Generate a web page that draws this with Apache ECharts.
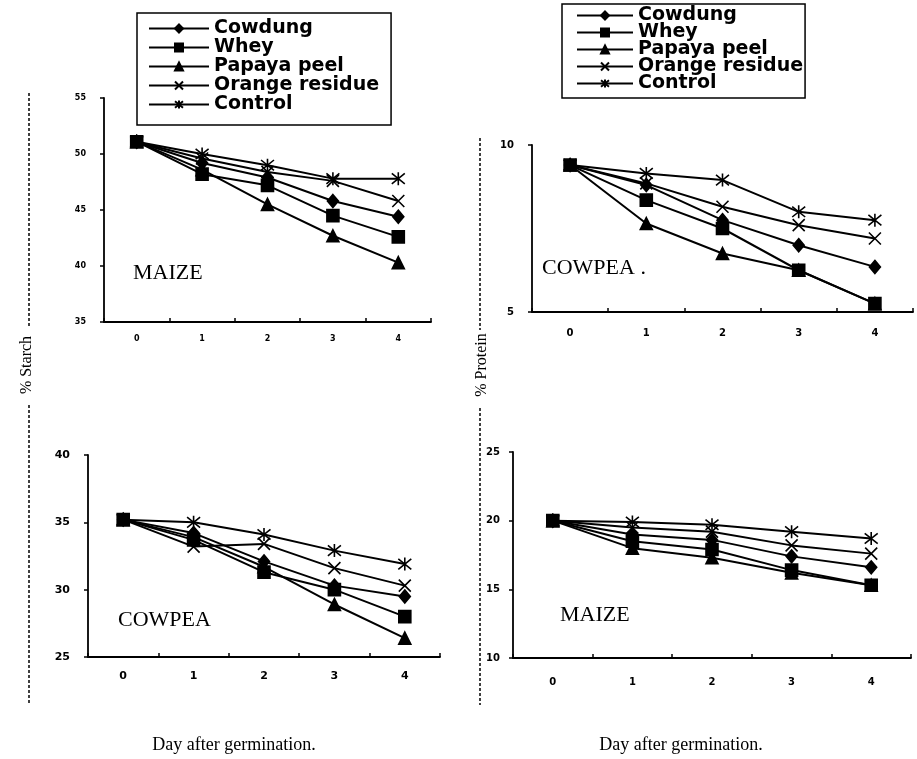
<!DOCTYPE html>
<html>
<head>
<meta charset="utf-8">
<script src="https://cdn.jsdelivr.net/npm/echarts@6/dist/echarts.min.js"></script>
<style>
html,body{margin:0;padding:0;background:#fff;}
#chart{width:917px;height:759px;}
</style>
</head>
<body>
<div id="chart"></div>
<script>
// ---------- data ----------
const days = ['0', '1', '2', '3', '4'];
const seriesNames = ['Cowdung', 'Whey', 'Papaya peel', 'Orange residue', 'Control'];

// % Starch - Maize (top left)
const maizeStarchCowdung = [51.1, 49.2, 47.9, 45.8, 44.4];
const maizeStarchWhey    = [51.1, 48.2, 47.2, 44.5, 42.6];
const maizeStarchPapaya  = [51.1, 48.6, 45.5, 42.7, 40.3];
const maizeStarchOrange  = [51.1, 49.6, 48.4, 47.6, 45.8];
const maizeStarchControl = [51.1, 50.0, 49.0, 47.8, 47.8];

// % Protein - Cowpea (top right)
const cowpeaProteinCowdung = [9.4, 8.8, 7.75, 7.0, 6.35];
const cowpeaProteinWhey    = [9.4, 8.35, 7.5, 6.25, 5.25];
const cowpeaProteinPapaya  = [9.4, 7.65, 6.75, 6.25, 5.25];
const cowpeaProteinOrange  = [9.4, 8.85, 8.15, 7.6, 7.2];
const cowpeaProteinControl = [9.4, 9.15, 8.95, 8.0, 7.75];

// % Starch - Cowpea (bottom left)
const cowpeaStarchCowdung = [35.2, 34.2, 32.1, 30.3, 29.5];
const cowpeaStarchWhey    = [35.2, 33.7, 31.3, 30.0, 28.0];
const cowpeaStarchPapaya  = [35.2, 33.9, 31.7, 28.9, 26.4];
const cowpeaStarchOrange  = [35.2, 33.2, 33.4, 31.6, 30.3];
const cowpeaStarchControl = [35.2, 35.0, 34.1, 32.9, 31.9];

// % Protein - Maize (bottom right)
const maizeProteinCowdung = [20.0, 19.0, 18.6, 17.4, 16.6];
const maizeProteinWhey    = [20.0, 18.5, 17.9, 16.4, 15.3];
const maizeProteinPapaya  = [20.0, 18.0, 17.3, 16.2, 15.3];
const maizeProteinOrange  = [20.0, 19.5, 19.2, 18.2, 17.6];
const maizeProteinControl = [20.0, 19.9, 19.7, 19.2, 18.7];

// axis ranges [min, max, interval]
const maizeStarchRange   = [35, 55, 5];
const cowpeaProteinRange = [5, 10, 5];
const cowpeaStarchRange  = [25, 40, 5];
const maizeProteinRange  = [10, 25, 5];

// ---------- styling ----------
const BLACK = '#000';
const SANS = 'DejaVu Sans';

const symbols = {
  'Cowdung': {symbol: 'diamond', size: [11, 13]},
  'Whey': {symbol: 'rect', size: 12},
  'Papaya peel': {symbol: 'triangle', size: 12},
  'Orange residue': {symbol: 'path://M0,0L10,10M10,0L0,10', size: 12},
  'Control': {symbol: 'path://M1,1L9,9M9,1L1,9M5,0L5,10', size: 13}
};

function makeSeries(gridIndex, arrays) {
  return seriesNames.map((name, i) => ({
    name: name,
    type: 'line',
    xAxisIndex: gridIndex,
    yAxisIndex: gridIndex,
    data: arrays[i],
    symbol: symbols[name].symbol,
    symbolSize: symbols[name].size,
    showSymbol: true,
    animation: false,
    z: 5 - i,
    lineStyle: {color: BLACK, width: 2},
    itemStyle: {color: BLACK, borderColor: BLACK, borderWidth: 1.6}
  }));
}

const grids = [
  {left: 104, top: 98, width: 327, height: 224},
  {left: 532, top: 145, width: 381, height: 167},
  {left: 88, top: 455, width: 352, height: 202},
  {left: 513, top: 452, width: 398, height: 206}
];
const labelFont = [8, 10, 11, 10];
const yMargin = [18, 18, 18, 13];
const xMargin = [13, 16, 14, 19];
const ranges = [maizeStarchRange, cowpeaProteinRange, cowpeaStarchRange, maizeProteinRange];

const xAxes = grids.map((g, i) => ({
  type: 'category',
  gridIndex: i,
  data: days,
  boundaryGap: true,
  axisLine: {show: true, lineStyle: {color: BLACK, width: 1.8}},
  axisTick: {show: true, inside: true, length: 4, lineStyle: {color: BLACK, width: 1.5}},
  axisLabel: {color: BLACK, fontFamily: SANS, fontWeight: 'bold', fontSize: labelFont[i], margin: xMargin[i]},
  splitLine: {show: false}
}));

const yAxes = grids.map((g, i) => ({
  type: 'value',
  gridIndex: i,
  min: ranges[i][0],
  max: ranges[i][1],
  interval: ranges[i][2],
  axisLine: {show: true, lineStyle: {color: BLACK, width: 1.8}},
  axisTick: {show: true, length: 4, lineStyle: {color: BLACK, width: 1.5}},
  axisLabel: {color: BLACK, fontFamily: SANS, fontWeight: 'bold', fontSize: labelFont[i], margin: yMargin[i]},
  splitLine: {show: false}
}));

const legendCommon = {
  orient: 'vertical',
  data: seriesNames,
  borderColor: BLACK,
  borderWidth: 1.5,
  borderRadius: 0,
  selectedMode: false,
  backgroundColor: '#fff',
  lineStyle: {width: 2, color: BLACK},
  itemHeight: 10
};

const option = {
  backgroundColor: '#fff',
  animation: false,
  grid: grids,
  xAxis: xAxes,
  yAxis: yAxes,
  legend: [
    Object.assign({}, legendCommon, {
      left: 137, top: 13,
      padding: [6, 12, 11, 11],
      itemWidth: 60, itemGap: 0,
      textStyle: {color: BLACK, fontFamily: SANS, fontWeight: 'bold', fontSize: 19, lineHeight: 18.75}
    }),
    Object.assign({}, legendCommon, {
      left: 562, top: 4,
      padding: [2, 2, 5, 14],
      itemWidth: 56, itemGap: -2,
      textStyle: {color: BLACK, fontFamily: SANS, fontWeight: 'bold', fontSize: 19, lineHeight: 17}
    })
  ],
  graphic: [
    {type: 'text', x: 133, y: 273, style: {text: 'MAIZE', font: '22px "Liberation Serif"', fill: BLACK, verticalAlign: 'middle'}},
    {type: 'text', x: 542, y: 268, style: {text: 'COWPEA .', font: '22px "Liberation Serif"', fill: BLACK, verticalAlign: 'middle'}},
    {type: 'text', x: 118, y: 620, style: {text: 'COWPEA', font: '22px "Liberation Serif"', fill: BLACK, verticalAlign: 'middle'}},
    {type: 'text', x: 560, y: 615, style: {text: 'MAIZE', font: '22px "Liberation Serif"', fill: BLACK, verticalAlign: 'middle'}},
    {type: 'text', x: 27, y: 365, rotation: Math.PI / 2, style: {text: '% Starch', font: '16px "Liberation Serif"', fill: BLACK, align: 'center', verticalAlign: 'middle'}},
    {type: 'text', x: 482, y: 365, rotation: Math.PI / 2, style: {text: '% Protein', font: '16px "Liberation Serif"', fill: BLACK, align: 'center', verticalAlign: 'middle'}},
    {type: 'line', shape: {x1: 29, y1: 93, x2: 29, y2: 328}, style: {stroke: BLACK, lineWidth: 1.5, lineDash: [3, 2]}},
    {type: 'line', shape: {x1: 29, y1: 405, x2: 29, y2: 705}, style: {stroke: BLACK, lineWidth: 1.5, lineDash: [3, 2]}},
    {type: 'line', shape: {x1: 480, y1: 138, x2: 480, y2: 330}, style: {stroke: BLACK, lineWidth: 1.5, lineDash: [3, 2]}},
    {type: 'line', shape: {x1: 480, y1: 408, x2: 480, y2: 705}, style: {stroke: BLACK, lineWidth: 1.5, lineDash: [3, 2]}},
    {type: 'text', x: 234, y: 745, style: {text: 'Day after germination.', font: '18px "Liberation Serif"', fill: BLACK, align: 'center', verticalAlign: 'middle'}},
    {type: 'text', x: 681, y: 745, style: {text: 'Day after germination.', font: '18px "Liberation Serif"', fill: BLACK, align: 'center', verticalAlign: 'middle'}}
  ],
  series: [].concat(
    makeSeries(0, [maizeStarchCowdung, maizeStarchWhey, maizeStarchPapaya, maizeStarchOrange, maizeStarchControl]),
    makeSeries(1, [cowpeaProteinCowdung, cowpeaProteinWhey, cowpeaProteinPapaya, cowpeaProteinOrange, cowpeaProteinControl]),
    makeSeries(2, [cowpeaStarchCowdung, cowpeaStarchWhey, cowpeaStarchPapaya, cowpeaStarchOrange, cowpeaStarchControl]),
    makeSeries(3, [maizeProteinCowdung, maizeProteinWhey, maizeProteinPapaya, maizeProteinOrange, maizeProteinControl])
  )
};

const chart = echarts.init(document.getElementById('chart'), null, {renderer: 'canvas'});
chart.setOption(option);
</script>
</body>
</html>
